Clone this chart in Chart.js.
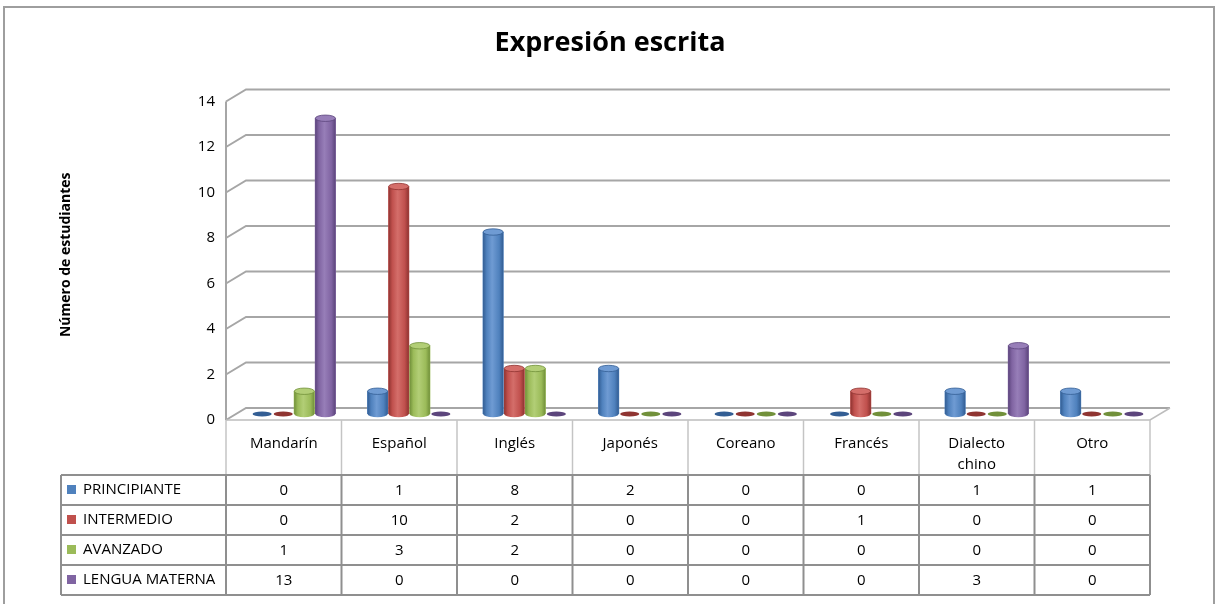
<!DOCTYPE html>
<html>
<head>
<meta charset="utf-8">
<script src="https://cdn.jsdelivr.net/npm/chart.js@4/dist/chart.umd.min.js"></script>
<style>
  html, body { margin: 0; padding: 0; background: #fff; }
  canvas { display: block; }
</style>
</head>
<body>
<canvas id="expresionChart" width="1218" height="604"></canvas>
<script>
const categories = ['Mandarín', 'Español', 'Inglés', 'Japonés', 'Coreano', 'Francés', ['Dialecto', 'chino'], 'Otro'];
const principiante = [0, 1, 8, 2, 0, 0, 1, 1];
const intermedio = [0, 10, 2, 0, 0, 1, 0, 0];
const avanzado = [1, 3, 2, 0, 0, 0, 0, 0];
const lenguaMaterna = [13, 0, 0, 0, 0, 0, 3, 0];
const seriesNames = ['PRINCIPIANTE', 'INTERMEDIO', 'AVANZADO', 'LENGUA MATERNA'];
const yTicks = [0, 2, 4, 6, 8, 10, 12, 14];

const palette = [
  { base: '#4F81BD', light: '#6F9BD3', dark: '#335E94' },
  { base: '#C0504D', light: '#D46E6A', dark: '#8F3431' },
  { base: '#9BBB59', light: '#B2CE76', dark: '#71903A' },
  { base: '#8064A2', light: '#977EB8', dark: '#5C457C' },
];

// depth offset from the bar plane to the front plane (back is the opposite)
const DX = 10;
const DY = 6;
const FONT = "'Open Sans', sans-serif";

function cylinder(ctx, x, w, top, base, c) {
  const rx = w / 2 - 0.5;
  const ry = 3.2;
  const g = ctx.createLinearGradient(x - rx, 0, x + rx, 0);
  g.addColorStop(0, c.dark);
  g.addColorStop(0.18, c.base);
  g.addColorStop(0.45, c.light);
  g.addColorStop(0.8, c.base);
  g.addColorStop(1, c.dark);

  if (base - top < 1) {
    ctx.beginPath();
    ctx.ellipse(x, base, rx - 0.5, 2.6, 0, 0, Math.PI * 2);
    ctx.fillStyle = c.dark;
    ctx.fill();
    return;
  }
  ctx.beginPath();
  ctx.moveTo(x - rx, top);
  ctx.lineTo(x - rx, base);
  ctx.ellipse(x, base, rx, ry, 0, Math.PI, 0, true);
  ctx.lineTo(x + rx, top);
  ctx.closePath();
  ctx.fillStyle = g;
  ctx.fill();

  ctx.beginPath();
  ctx.ellipse(x, top, rx, ry, 0, 0, Math.PI * 2);
  ctx.fillStyle = c.light;
  ctx.fill();
  ctx.strokeStyle = c.dark;
  ctx.lineWidth = 0.8;
  ctx.stroke();
}

const framePlugin = {
  id: 'frame3d',
  beforeDraw(chart) {
    const { ctx, scales: { x, y } } = chart;
    ctx.save();
    // outer border
    ctx.strokeStyle = '#9E9E9E';
    ctx.lineWidth = 2;
    ctx.strokeRect(4, 7, 1210, 620);

    // title
    ctx.fillStyle = '#000';
    ctx.font = 'bold 27px ' + FONT;
    ctx.textAlign = 'center';
    ctx.textBaseline = 'middle';
    ctx.fillText('Expresión escrita', 610, 43);

    const left = x.left - DX;
    const right = x.right - DX;
    // back wall gridlines + left wall diagonals
    ctx.strokeStyle = '#A6A6A6';
    ctx.lineWidth = 2;
    yTicks.forEach((v) => {
      const py = y.getPixelForValue(v);
      ctx.beginPath();
      ctx.moveTo(left, py + DY);
      ctx.lineTo(left + 2 * DX, py - DY);
      ctx.lineTo(right + 2 * DX, py - DY);
      ctx.stroke();
    });
    // left front edge
    ctx.beginPath();
    ctx.moveTo(left, y.getPixelForValue(yTicks[yTicks.length - 1]) + DY);
    ctx.lineTo(left, y.getPixelForValue(0) + DY);
    ctx.stroke();
    // floor front edge and right side
    const fy = y.getPixelForValue(0) + DY;
    ctx.strokeStyle = '#BDBDBD';
    ctx.lineWidth = 1.5;
    ctx.beginPath();
    ctx.moveTo(left, fy);
    ctx.lineTo(right, fy);
    ctx.lineTo(right + 2 * DX, fy - 2 * DY);
    ctx.stroke();
    ctx.restore();
  },
  afterDatasetsDraw(chart) {
    const { ctx } = chart;
    ctx.save();
    chart.data.datasets.forEach((ds, i) => {
      const meta = chart.getDatasetMeta(i);
      meta.data.forEach((bar) => {
        cylinder(ctx, bar.x, bar.width, bar.y, bar.base, palette[i]);
      });
    });
    ctx.restore();
  },
  afterDraw(chart) {
    const { ctx, scales: { x, y } } = chart;
    const n = categories.length;
    const cw = (x.right - x.left) / n;
    const left = x.left - DX;
    const top = y.getPixelForValue(0) + DY;
    const labelH = 55;
    const rowH = 30;
    const tableLeft = 61;
    const tableTop = top + labelH;
    const tableBottom = tableTop + rowH * seriesNames.length;

    ctx.save();
    // category label row
    ctx.strokeStyle = '#C4C4C4';
    ctx.lineWidth = 1.5;
    for (let i = 0; i <= n; i++) {
      const px = left + i * cw;
      ctx.beginPath();
      ctx.moveTo(px, top);
      ctx.lineTo(px, tableTop);
      ctx.stroke();
    }
    ctx.fillStyle = '#000';
    ctx.font = '15px ' + FONT;
    ctx.textAlign = 'center';
    ctx.textBaseline = 'middle';
    categories.forEach((c, i) => {
      const cx = x.getPixelForTick(i) - DX;
      const lines = Array.isArray(c) ? c : [c];
      lines.forEach((t, k) => ctx.fillText(t, cx, top + 24 + k * 21));
    });

    // data table grid
    ctx.strokeStyle = '#8F8F8F';
    ctx.lineWidth = 2;
    for (let r = 0; r <= seriesNames.length; r++) {
      const py = tableTop + r * rowH;
      ctx.beginPath();
      ctx.moveTo(tableLeft, py);
      ctx.lineTo(left + n * cw, py);
      ctx.stroke();
    }
    const cols = [tableLeft];
    for (let i = 0; i <= n; i++) cols.push(left + i * cw);
    cols.forEach((px) => {
      ctx.beginPath();
      ctx.moveTo(px, tableTop);
      ctx.lineTo(px, tableBottom);
      ctx.stroke();
    });

    // legend keys and values
    chart.data.datasets.forEach((ds, r) => {
      const cy = tableTop + r * rowH + rowH / 2;
      const c = palette[r];
      ctx.fillStyle = c.base;
      ctx.fillRect(67, cy - 5, 9, 9);
      ctx.fillStyle = '#000';
      ctx.textAlign = 'left';
      ctx.fillText(seriesNames[r], 83, cy);
      ctx.textAlign = 'center';
      ds.data.forEach((v, i) => {
        ctx.fillText(String(v), x.getPixelForTick(i) - DX, cy + 1);
      });
    });
    ctx.restore();
  },
};

const seriesData = [principiante, intermedio, avanzado, lenguaMaterna];

new Chart(document.getElementById('expresionChart'), {
  type: 'bar',
  data: {
    labels: categories,
    datasets: seriesData.map((d, i) => ({
      label: seriesNames[i],
      data: d,
      backgroundColor: palette[i].base,
      borderWidth: 0,
      categoryPercentage: 0.73,
      barPercentage: 1,
    })),
  },
  options: {
    responsive: false,
    animation: false,
    layout: { padding: { left: 0, top: 95.5, right: 58, bottom: 190 } },
    plugins: {
      legend: { display: false },
      tooltip: { enabled: false },
      title: { display: false },
    },
    scales: {
      x: { display: false },
      y: {
        min: 0,
        max: 14,
        afterFit: (scale) => { scale.width = 236; },
        grid: { display: false, drawTicks: false },
        border: { display: false },
        afterBuildTicks: (scale) => { scale.ticks = yTicks.map((v) => ({ value: v })); },
        ticks: {
          padding: 21,
          labelOffset: DY,
          color: '#000',
          font: { family: FONT, size: 15 },
        },
        title: {
          display: true,
          text: 'Número de estudiantes',
          color: '#000',
          font: { family: FONT, size: 14, weight: 'bold' },
          padding: { top: 58, bottom: 0 },
        },
      },
    },
  },
  plugins: [framePlugin],
});
</script>
</body>
</html>
